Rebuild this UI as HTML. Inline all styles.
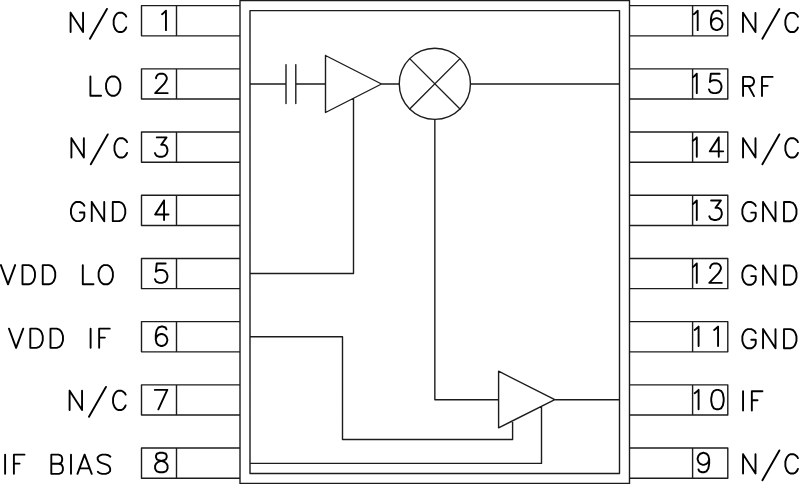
<!DOCTYPE html>
<html><head><meta charset="utf-8"><style>
html,body{margin:0;padding:0;background:#fff;}
body{width:800px;height:484px;overflow:hidden;font-family:"Liberation Sans",sans-serif;}
svg{display:block;}
</style></head><body>
<svg width="800" height="484" viewBox="0 0 800 484">
<rect width="800" height="484" fill="#fff"/>
<g fill="none" stroke="#1c1c1c" stroke-width="1.4" stroke-linejoin="round" stroke-linecap="round">
<path d="M240.00 0.50 L629.50 0.50 L629.50 483.50 L240.00 483.50 L240.00 0.50 M250.00 10.60 L619.50 10.60 L619.50 473.50 L250.00 473.50 L250.00 10.60 M240.00 5.66 L141.50 5.66 L141.50 35.86 L240.00 35.86 M176.50 5.66 L176.50 35.86 M629.50 5.66 L727.80 5.66 L727.80 35.86 L629.50 35.86 M692.60 5.66 L692.60 35.86 M240.00 68.86 L141.50 68.86 L141.50 99.06 L240.00 99.06 M176.50 68.86 L176.50 99.06 M629.50 68.86 L727.80 68.86 L727.80 99.06 L629.50 99.06 M692.60 68.86 L692.60 99.06 M240.00 132.06 L141.50 132.06 L141.50 162.26 L240.00 162.26 M176.50 132.06 L176.50 162.26 M629.50 132.06 L727.80 132.06 L727.80 162.26 L629.50 162.26 M692.60 132.06 L692.60 162.26 M240.00 195.26 L141.50 195.26 L141.50 225.46 L240.00 225.46 M176.50 195.26 L176.50 225.46 M629.50 195.26 L727.80 195.26 L727.80 225.46 L629.50 225.46 M692.60 195.26 L692.60 225.46 M240.00 258.46 L141.50 258.46 L141.50 288.66 L240.00 288.66 M176.50 258.46 L176.50 288.66 M629.50 258.46 L727.80 258.46 L727.80 288.66 L629.50 288.66 M692.60 258.46 L692.60 288.66 M240.00 321.66 L141.50 321.66 L141.50 351.86 L240.00 351.86 M176.50 321.66 L176.50 351.86 M629.50 321.66 L727.80 321.66 L727.80 351.86 L629.50 351.86 M692.60 321.66 L692.60 351.86 M240.00 384.86 L141.50 384.86 L141.50 415.06 L240.00 415.06 M176.50 384.86 L176.50 415.06 M629.50 384.86 L727.80 384.86 L727.80 415.06 L629.50 415.06 M692.60 384.86 L692.60 415.06 M240.00 448.06 L141.50 448.06 L141.50 478.26 L240.00 478.26 M176.50 448.06 L176.50 478.26 M629.50 448.06 L727.80 448.06 L727.80 478.26 L629.50 478.26 M692.60 448.06 L692.60 478.26 M250.00 84.00 L286.00 84.00 M286.00 64.60 L286.00 103.60 M295.80 64.60 L295.80 103.60 M295.80 84.00 L325.50 84.00 M325.50 55.50 L381.50 84.00 L325.50 112.50 L325.50 55.50 M381.50 84.00 L399.00 84.00 M409.68 58.63 L460.02 108.97 M460.02 58.63 L409.68 108.97 M470.45 84.00 L619.50 84.00 M250.00 273.50 L353.50 273.50 L353.50 98.50 M434.85 119.40 L434.85 399.80 L498.60 399.80 M498.60 371.20 L554.80 399.70 L498.60 427.80 L498.60 371.20 M554.80 399.70 L619.50 399.70 M250.00 336.80 L342.50 336.80 L342.50 439.50 L512.60 439.50 L512.60 420.80 M250.00 463.40 L541.50 463.40 L541.50 406.30"/>
<circle cx="434.85" cy="83.8" r="35.6"/>
</g>
<g fill="none" stroke="#000" stroke-width="1.9" stroke-linejoin="round" stroke-linecap="round">
<path d="M70.60 12.79 L70.60 32.00 M70.60 12.79 L83.06 32.00 M83.06 12.79 L83.06 32.00 M106.93 8.94 L89.98 38.68 M126.22 16.63 L125.38 15.07 L123.71 13.70 L122.04 12.79 L118.69 12.79 L117.02 13.70 L115.34 15.53 L114.51 17.36 L113.67 20.11 L113.67 24.68 L114.51 27.43 L115.34 29.25 L117.02 31.09 L118.69 32.00 L122.04 32.00 L123.71 31.09 L125.38 29.25 L126.22 27.43 M90.40 76.48 L90.40 95.70 M90.40 95.70 L101.08 95.70 M111.42 76.48 L109.64 77.40 L107.86 79.23 L106.97 81.06 L106.08 83.81 L106.08 88.38 L106.97 91.12 L107.86 92.95 L109.64 94.78 L111.42 95.70 L114.98 95.70 L116.76 94.78 L118.54 92.95 L119.43 91.12 L120.32 88.38 L120.32 83.81 L119.43 81.06 L118.54 79.23 L116.76 77.40 L114.98 76.48 L111.42 76.48 M71.40 138.28 L71.40 157.50 M71.40 138.28 L83.86 157.50 M83.86 138.28 L83.86 157.50 M107.73 134.44 L90.78 164.18 M127.02 142.13 L126.18 140.57 L124.51 139.20 L122.84 138.28 L119.49 138.28 L117.82 139.20 L116.14 141.03 L115.31 142.86 L114.47 145.60 L114.47 150.18 L115.31 152.93 L116.14 154.75 L117.82 156.59 L119.49 157.50 L122.84 157.50 L124.51 156.59 L126.18 154.75 L127.02 152.93 M84.32 205.78 L83.43 204.22 L81.65 202.85 L79.87 201.94 L76.31 201.94 L74.53 202.85 L72.75 204.68 L71.86 206.51 L70.97 209.25 L70.97 213.83 L71.86 216.58 L72.75 218.41 L74.53 220.24 L76.31 221.15 L79.87 221.15 L81.65 220.24 L83.43 218.41 L84.32 216.58 L84.32 212.55 M79.87 212.55 L84.32 212.55 M91.76 201.94 L91.76 221.15 M91.76 201.94 L104.22 221.15 M104.22 201.94 L104.22 221.15 M112.80 201.94 L112.80 221.15 M112.80 201.94 L119.03 201.94 L121.70 202.85 L123.48 204.68 L124.37 206.51 L125.26 209.25 L125.26 213.83 L124.37 216.58 L123.48 218.41 L121.70 220.24 L119.03 221.15 L112.80 221.15 M0.89 265.09 L8.01 284.30 M15.13 265.09 L8.01 284.30 M22.50 265.09 L22.50 284.30 M22.50 265.09 L28.73 265.09 L31.40 266.00 L33.18 267.83 L34.07 269.66 L34.96 272.41 L34.96 276.98 L34.07 279.73 L33.18 281.56 L31.40 283.38 L28.73 284.30 L22.50 284.30 M42.75 265.09 L42.75 284.30 M42.75 265.09 L48.98 265.09 L51.65 266.00 L53.43 267.83 L54.32 269.66 L55.21 272.41 L55.21 276.98 L54.32 279.73 L53.43 281.56 L51.65 283.38 L48.98 284.30 L42.75 284.30 M82.80 265.09 L82.80 284.30 M82.80 284.30 L93.48 284.30 M103.97 265.09 L102.19 266.00 L100.41 267.83 L99.52 269.66 L98.63 272.41 L98.63 276.98 L99.52 279.73 L100.41 281.56 L102.19 283.38 L103.97 284.30 L107.53 284.30 L109.31 283.38 L111.09 281.56 L111.98 279.73 L112.87 276.98 L112.87 272.41 L111.98 269.66 L111.09 267.83 L109.31 266.00 L107.53 265.09 L103.97 265.09 M8.99 328.64 L16.11 347.85 M23.23 328.64 L16.11 347.85 M30.30 328.64 L30.30 347.85 M30.30 328.64 L36.53 328.64 L39.20 329.55 L40.98 331.38 L41.87 333.21 L42.76 335.96 L42.76 340.53 L41.87 343.28 L40.98 345.11 L39.20 346.94 L36.53 347.85 L30.30 347.85 M50.50 328.64 L50.50 347.85 M50.50 328.64 L56.73 328.64 L59.40 329.55 L61.18 331.38 L62.07 333.21 L62.96 335.96 L62.96 340.53 L62.07 343.28 L61.18 345.11 L59.40 346.94 L56.73 347.85 L50.50 347.85 M90.60 328.64 L90.60 347.85 M99.15 328.64 L99.15 347.85 M99.15 328.64 L109.74 328.64 M99.15 337.60 L104.85 337.60 M69.60 390.79 L69.60 410.00 M69.60 390.79 L82.06 410.00 M82.06 390.79 L82.06 410.00 M105.93 386.94 L88.98 416.68 M125.62 394.63 L124.78 393.07 L123.11 391.70 L121.44 390.79 L118.09 390.79 L116.42 391.70 L114.74 393.53 L113.91 395.36 L113.07 398.11 L113.07 402.68 L113.91 405.43 L114.74 407.25 L116.42 409.08 L118.09 410.00 L121.44 410.00 L123.11 409.08 L124.78 407.25 L125.62 405.43 M5.10 454.64 L5.10 473.85 M13.90 454.64 L13.90 473.85 M13.90 454.64 L24.49 454.64 M13.90 463.60 L19.60 463.60 M51.30 454.64 L51.30 473.85 M51.30 454.64 L58.60 454.64 L60.91 455.55 L61.62 456.47 L62.16 458.30 L62.16 460.12 L61.62 461.96 L60.91 462.87 L58.60 463.79 M51.30 463.79 L58.95 463.79 L61.45 464.70 L62.16 465.62 L62.87 467.45 L62.87 470.19 L62.16 472.02 L61.45 472.94 L58.95 473.85 L51.30 473.85 M71.00 454.64 L71.00 473.85 M84.60 454.64 L77.48 473.85 M84.60 454.64 L91.72 473.85 M79.77 468.36 L89.43 468.36 M110.31 456.65 L108.35 455.28 L105.68 454.64 L102.12 454.64 L99.45 455.55 L97.67 457.38 L97.67 459.21 L98.56 461.04 L99.45 461.96 L101.23 462.87 L106.57 464.70 L108.35 465.62 L109.24 466.53 L110.13 468.36 L110.13 471.11 L108.35 472.94 L105.68 473.85 L102.12 473.85 L99.45 473.12 L97.85 471.84 M743.00 12.85 L743.00 32.06 M743.00 12.85 L755.46 32.06 M755.46 12.85 L755.46 32.06 M779.33 9.00 L762.38 38.74 M797.92 16.69 L797.08 15.13 L795.41 13.76 L793.74 12.85 L790.39 12.85 L788.72 13.76 L787.04 15.59 L786.21 17.42 L785.37 20.17 L785.37 24.74 L786.21 27.49 L787.04 29.32 L788.72 31.15 L790.39 32.06 L793.74 32.06 L795.41 31.15 L797.08 29.32 L797.92 27.49 M743.04 76.88 L743.04 96.10 M743.04 76.88 L750.09 76.88 L752.44 77.80 L753.22 78.71 L754.00 80.54 L754.00 82.38 L753.22 84.20 L752.44 85.12 L750.09 86.03 L743.04 86.03 M748.52 86.03 L754.00 96.10 M762.00 76.88 L762.00 96.10 M762.00 76.88 L772.59 76.88 M762.00 85.85 L767.70 85.85 M743.04 138.28 L743.04 157.50 M743.04 138.28 L755.50 157.50 M755.50 138.28 L755.50 157.50 M779.33 134.44 L762.38 164.18 M797.92 142.13 L797.08 140.57 L795.41 139.20 L793.74 138.28 L790.39 138.28 L788.72 139.20 L787.04 141.03 L786.21 142.86 L785.37 145.60 L785.37 150.18 L786.21 152.93 L787.04 154.75 L788.72 156.59 L790.39 157.50 L793.74 157.50 L795.41 156.59 L797.08 154.75 L797.92 152.93 M755.72 205.89 L754.83 204.33 L753.05 202.96 L751.27 202.04 L747.71 202.04 L745.93 202.96 L744.15 204.79 L743.26 206.62 L742.37 209.36 L742.37 213.94 L743.26 216.69 L744.15 218.51 L745.93 220.34 L747.71 221.26 L751.27 221.26 L753.05 220.34 L754.83 218.51 L755.72 216.69 L755.72 212.66 M751.27 212.66 L755.72 212.66 M763.04 202.04 L763.04 221.26 M763.04 202.04 L775.50 221.26 M775.50 202.04 L775.50 221.26 M784.00 202.04 L784.00 221.26 M784.00 202.04 L790.23 202.04 L792.90 202.96 L794.68 204.79 L795.57 206.62 L796.46 209.36 L796.46 213.94 L795.57 216.69 L794.68 218.51 L792.90 220.34 L790.23 221.26 L784.00 221.26 M755.72 269.37 L754.83 267.81 L753.05 266.44 L751.27 265.53 L747.71 265.53 L745.93 266.44 L744.15 268.27 L743.26 270.10 L742.37 272.85 L742.37 277.42 L743.26 280.17 L744.15 282.00 L745.93 283.82 L747.71 284.74 L751.27 284.74 L753.05 283.82 L754.83 282.00 L755.72 280.17 L755.72 276.14 M751.27 276.14 L755.72 276.14 M763.04 265.53 L763.04 284.74 M763.04 265.53 L775.50 284.74 M775.50 265.53 L775.50 284.74 M784.00 265.53 L784.00 284.74 M784.00 265.53 L790.23 265.53 L792.90 266.44 L794.68 268.27 L795.57 270.10 L796.46 272.85 L796.46 277.42 L795.57 280.17 L794.68 282.00 L792.90 283.82 L790.23 284.74 L784.00 284.74 M755.72 332.93 L754.83 331.37 L753.05 330.00 L751.27 329.09 L747.71 329.09 L745.93 330.00 L744.15 331.83 L743.26 333.66 L742.37 336.41 L742.37 340.98 L743.26 343.73 L744.15 345.56 L745.93 347.38 L747.71 348.30 L751.27 348.30 L753.05 347.38 L754.83 345.56 L755.72 343.73 L755.72 339.70 M751.27 339.70 L755.72 339.70 M763.04 329.09 L763.04 348.30 M763.04 329.09 L775.50 348.30 M775.50 329.09 L775.50 348.30 M784.00 329.09 L784.00 348.30 M784.00 329.09 L790.23 329.09 L792.90 330.00 L794.68 331.83 L795.57 333.66 L796.46 336.41 L796.46 340.98 L795.57 343.73 L794.68 345.56 L792.90 347.38 L790.23 348.30 L784.00 348.30 M743.04 391.29 L743.04 410.50 M751.84 391.29 L751.84 410.50 M751.84 391.29 L762.43 391.29 M751.84 400.25 L757.54 400.25 M743.04 454.29 L743.04 473.50 M743.04 454.29 L755.50 473.50 M755.50 454.29 L755.50 473.50 M779.37 450.44 L762.42 480.18 M797.92 458.13 L797.08 456.57 L795.41 455.20 L793.74 454.29 L790.39 454.29 L788.72 455.20 L787.04 457.03 L786.21 458.86 L785.37 461.61 L785.37 466.18 L786.21 468.93 L787.04 470.75 L788.72 472.58 L790.39 473.50 L793.74 473.50 L795.41 472.58 L797.08 470.75 L797.92 468.93 M162.05 14.15 L163.66 12.94 L165.97 10.72 L165.97 30.15 M156.06 78.35 L156.06 77.43 L156.95 75.58 L157.84 74.65 L159.62 73.73 L163.18 73.73 L164.96 74.65 L165.85 75.58 L166.74 77.43 L166.74 79.28 L165.85 81.12 L164.07 83.90 L155.17 93.15 L167.63 93.15 M156.75 137.38 L166.54 137.38 L161.20 144.78 L163.87 144.78 L165.65 145.70 L166.54 146.62 L167.43 149.40 L167.43 151.25 L166.54 154.03 L164.76 155.88 L162.09 156.80 L159.42 156.80 L156.75 155.88 L155.86 154.95 L154.97 153.10 M164.07 200.52 L155.17 214.49 L168.52 214.49 M164.07 200.52 L164.07 219.95 M165.65 263.47 L156.75 263.47 L155.86 271.80 L156.75 270.88 L159.42 269.95 L162.09 269.95 L164.76 270.88 L166.54 272.72 L167.43 275.50 L167.43 277.35 L166.54 280.12 L164.76 281.97 L162.09 282.90 L159.42 282.90 L156.75 281.97 L155.86 281.05 L154.97 279.20 M166.44 329.35 L165.55 327.50 L162.88 326.57 L161.10 326.57 L158.43 327.50 L156.65 330.27 L155.76 334.90 L155.76 339.52 L156.65 343.23 L158.43 345.07 L161.10 346.00 L161.99 346.00 L164.66 345.07 L166.44 343.23 L167.33 340.45 L167.33 339.52 L166.44 336.75 L164.66 334.90 L161.99 333.98 L161.10 333.98 L158.43 334.90 L156.65 336.75 L155.76 339.52 M167.28 389.88 L158.38 409.30 M154.82 389.88 L167.28 389.88 M159.57 452.82 L156.90 453.75 L156.01 455.60 L156.01 457.45 L156.90 459.30 L158.68 460.23 L162.24 461.15 L164.91 462.07 L166.69 463.93 L167.58 465.77 L167.58 468.55 L166.69 470.40 L165.80 471.32 L163.13 472.25 L159.57 472.25 L156.90 471.32 L156.01 470.40 L155.12 468.55 L155.12 465.77 L156.01 463.93 L157.79 462.07 L160.46 461.15 L164.02 460.23 L165.80 459.30 L166.69 457.45 L166.69 455.60 L165.80 453.75 L163.13 452.82 L159.57 452.82 M693.77 14.15 L695.38 12.94 L697.69 10.72 L697.69 30.15 M721.59 13.50 L720.70 11.65 L718.03 10.72 L716.25 10.72 L713.58 11.65 L711.80 14.42 L710.91 19.05 L710.91 23.67 L711.80 27.38 L713.58 29.22 L716.25 30.15 L717.14 30.15 L719.81 29.22 L721.59 27.38 L722.48 24.60 L722.48 23.67 L721.59 20.90 L719.81 19.05 L717.14 18.12 L716.25 18.12 L713.58 19.05 L711.80 20.90 L710.91 23.67 M692.87 77.15 L694.48 75.95 L696.79 73.73 L696.79 93.15 M719.70 73.73 L710.80 73.73 L709.91 82.05 L710.80 81.12 L713.47 80.20 L716.14 80.20 L718.81 81.12 L720.59 82.98 L721.48 85.75 L721.48 87.60 L720.59 90.38 L718.81 92.23 L716.14 93.15 L713.47 93.15 L710.80 92.23 L709.91 91.30 L709.02 89.45 M692.87 140.80 L694.48 139.59 L696.79 137.38 L696.79 156.80 M718.76 137.38 L709.86 151.34 L723.21 151.34 M718.76 137.38 L718.76 156.80 M692.87 203.95 L694.48 202.74 L696.79 200.52 L696.79 219.95 M711.10 200.52 L720.89 200.52 L715.55 207.92 L718.22 207.92 L720.00 208.85 L720.89 209.77 L721.78 212.55 L721.78 214.40 L720.89 217.17 L719.11 219.02 L716.44 219.95 L713.77 219.95 L711.10 219.02 L710.21 218.10 L709.32 216.25 M692.87 266.90 L694.48 265.69 L696.79 263.47 L696.79 282.90 M710.19 268.10 L710.19 267.17 L711.08 265.32 L711.97 264.40 L713.75 263.47 L717.31 263.47 L719.09 264.40 L719.98 265.32 L720.87 267.17 L720.87 269.02 L719.98 270.88 L718.20 273.65 L709.30 282.90 L721.76 282.90 M694.67 330.00 L696.28 328.80 L698.59 326.57 L698.59 346.00 M714.14 330.00 L715.75 328.80 L718.06 326.57 L718.06 346.00 M694.67 393.30 L696.28 392.10 L698.59 389.88 L698.59 409.30 M716.57 389.88 L713.90 390.80 L712.12 393.57 L711.23 398.20 L711.23 400.98 L712.12 405.60 L713.90 408.38 L716.57 409.30 L718.35 409.30 L721.02 408.38 L722.80 405.60 L723.69 400.98 L723.69 398.20 L722.80 393.57 L721.02 390.80 L718.35 389.88 L716.57 389.88 M709.18 459.30 L708.29 462.07 L706.51 463.93 L703.84 464.85 L702.95 464.85 L700.28 463.93 L698.50 462.07 L697.61 459.30 L697.61 458.38 L698.50 455.60 L700.28 453.75 L702.95 452.82 L703.84 452.82 L706.51 453.75 L708.29 455.60 L709.18 459.30 L709.18 463.93 L708.29 468.55 L706.51 471.32 L703.84 472.25 L702.06 472.25 L699.39 471.32 L698.50 469.48"/>
</g>
</svg>
</body></html>
